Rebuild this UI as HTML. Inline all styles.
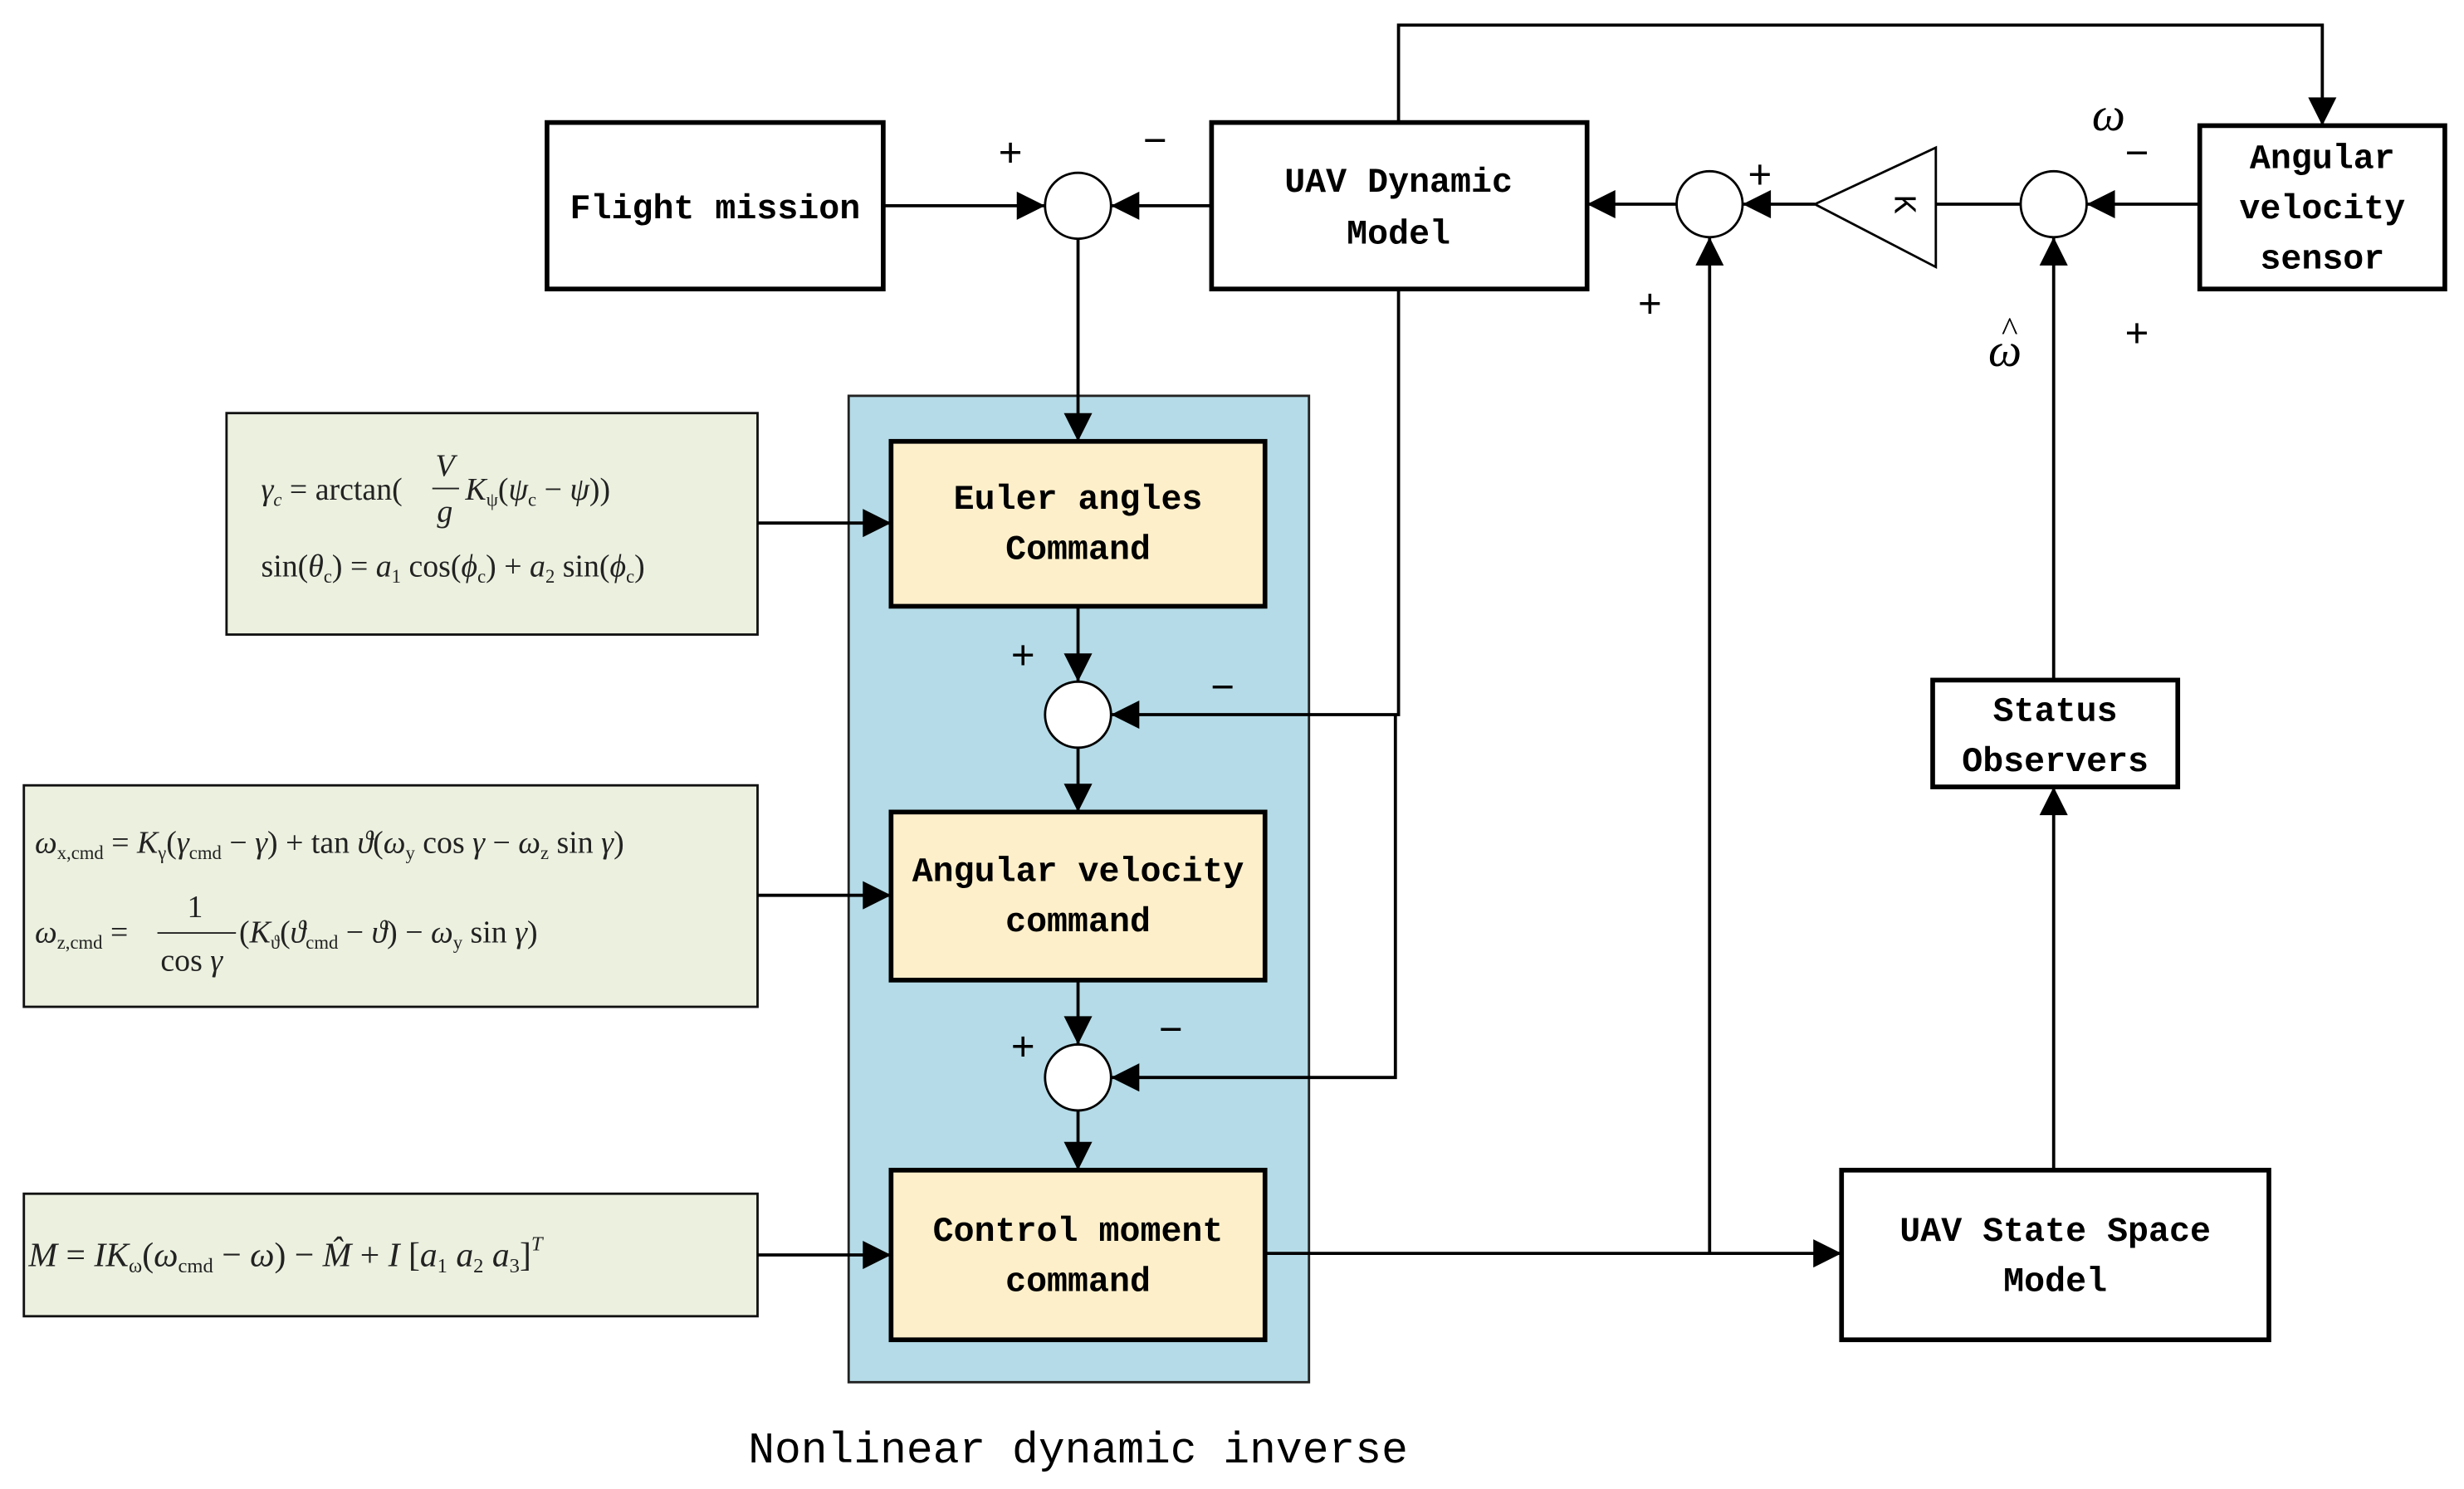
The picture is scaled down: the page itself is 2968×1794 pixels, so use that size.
<!DOCTYPE html>
<html><head><meta charset="utf-8"><style>html,body{margin:0;padding:0;background:#fff}svg{display:block}</style></head>
<body>
<svg width="2968" height="1794" viewBox="0 0 1568 948" xmlns="http://www.w3.org/2000/svg">
<defs>
<marker id="a" viewBox="0 0 10 10" refX="10" refY="5" markerWidth="22" markerHeight="18" markerUnits="userSpaceOnUse" orient="auto"><path d="M0,0 L10,5 L0,10 z" fill="#000"/></marker>
</defs>
<rect width="1568" height="948" fill="#fff"/>
<g font-family="Liberation Mono, monospace" font-weight="bold" font-size="22" text-anchor="middle" fill="#000">
<rect x="540" y="252" width="293" height="628" fill="#b4dbe7" stroke="#222" stroke-width="1.5"/>
<rect x="348" y="78" width="214" height="106" fill="#fff" stroke="#000" stroke-width="3"/>
<text x="455" y="139">Flight mission</text>
<rect x="771" y="78" width="239" height="106" fill="#fff" stroke="#000" stroke-width="3"/>
<text x="890" y="122">UAV Dynamic</text><text x="890" y="155">Model</text>
<rect x="1400" y="80" width="156" height="104" fill="#fff" stroke="#000" stroke-width="3"/>
<text x="1478" y="107">Angular</text><text x="1478" y="139">velocity</text><text x="1478" y="171">sensor</text>
<rect x="567" y="281" width="238" height="105" fill="#fdefca" stroke="#000" stroke-width="3"/>
<text x="686" y="324">Euler angles</text><text x="686" y="356">Command</text>
<rect x="567" y="517" width="238" height="107" fill="#fdefca" stroke="#000" stroke-width="3"/>
<text x="686" y="561">Angular velocity</text><text x="686" y="593">command</text>
<rect x="567" y="745" width="238" height="108" fill="#fdefca" stroke="#000" stroke-width="3"/>
<text x="686" y="790">Control moment</text><text x="686" y="822">command</text>
<rect x="1230" y="433" width="156" height="68" fill="#fff" stroke="#000" stroke-width="3"/>
<text x="1308" y="459">Status</text><text x="1308" y="491">Observers</text>
<rect x="1172" y="745" width="272" height="108" fill="#fff" stroke="#000" stroke-width="3"/>
<text x="1308" y="790">UAV State Space</text><text x="1308" y="822">Model</text>
<text x="686" y="931" font-weight="normal" font-size="28">Nonlinear dynamic inverse</text>
</g>
<g font-family="Liberation Serif, serif" font-size="20" fill="#222">
<rect x="144" y="263" width="338" height="141" fill="#ebf0df" stroke="#111" stroke-width="1.5"/>
<text x="166" y="318"><tspan font-style="italic">γ</tspan><tspan font-size="12" font-style="italic" dy="4">c</tspan><tspan dy="-4"> = arctan(</tspan></text>
<text x="277" y="303" font-style="italic">V</text><line x1="275" y1="311" x2="292" y2="311" stroke="#222"/><text x="278" y="332" font-style="italic">g</text>
<text x="296" y="318"><tspan font-style="italic">K</tspan><tspan font-size="12" dy="4">ψ</tspan><tspan dy="-4">(</tspan><tspan font-style="italic">ψ</tspan><tspan font-size="12" dy="4">c</tspan><tspan dy="-4"> − </tspan><tspan font-style="italic">ψ</tspan>))</text>
<text x="166" y="367">sin(<tspan font-style="italic">θ</tspan><tspan font-size="12" dy="4">c</tspan><tspan dy="-4">) = </tspan><tspan font-style="italic">a</tspan><tspan font-size="12" dy="4">1</tspan><tspan dy="-4"> cos(</tspan><tspan font-style="italic">ϕ</tspan><tspan font-size="12" dy="4">c</tspan><tspan dy="-4">) + </tspan><tspan font-style="italic">a</tspan><tspan font-size="12" dy="4">2</tspan><tspan dy="-4"> sin(</tspan><tspan font-style="italic">ϕ</tspan><tspan font-size="12" dy="4">c</tspan><tspan dy="-4">)</tspan></text>
<rect x="15" y="500" width="467" height="141" fill="#ebf0df" stroke="#111" stroke-width="1.5"/>
<text x="22" y="543"><tspan font-style="italic">ω</tspan><tspan font-size="12" dy="4">x,cmd</tspan><tspan dy="-4"> = </tspan><tspan font-style="italic">K</tspan><tspan font-size="12" dy="4">γ</tspan><tspan dy="-4">(</tspan><tspan font-style="italic">γ</tspan><tspan font-size="12" dy="4">cmd</tspan><tspan dy="-4"> − </tspan><tspan font-style="italic">γ</tspan>) + tan <tspan font-style="italic">ϑ</tspan>(<tspan font-style="italic">ω</tspan><tspan font-size="12" dy="4">y</tspan><tspan dy="-4"> cos </tspan><tspan font-style="italic">γ</tspan> − <tspan font-style="italic">ω</tspan><tspan font-size="12" dy="4">z</tspan><tspan dy="-4"> sin </tspan><tspan font-style="italic">γ</tspan>)</text>
<text x="22" y="600"><tspan font-style="italic">ω</tspan><tspan font-size="12" dy="4">z,cmd</tspan><tspan dy="-4"> = </tspan></text>
<text x="119" y="584">1</text><line x1="100" y1="594" x2="150" y2="594" stroke="#222"/><text x="102" y="618">cos <tspan font-style="italic">γ</tspan></text>
<text x="152" y="600">(<tspan font-style="italic">K</tspan><tspan font-size="12" dy="4">ϑ</tspan><tspan dy="-4">(</tspan><tspan font-style="italic">ϑ</tspan><tspan font-size="12" dy="4">cmd</tspan><tspan dy="-4"> − </tspan><tspan font-style="italic">ϑ</tspan>) − <tspan font-style="italic">ω</tspan><tspan font-size="12" dy="4">y</tspan><tspan dy="-4"> sin </tspan><tspan font-style="italic">γ</tspan>)</text>
<rect x="15" y="760" width="467" height="78" fill="#ebf0df" stroke="#111" stroke-width="1.5"/>
<text x="18" y="806" font-size="22"><tspan font-style="italic">M</tspan> = <tspan font-style="italic">IK</tspan><tspan font-size="13" dy="4">ω</tspan><tspan dy="-4">(</tspan><tspan font-style="italic">ω</tspan><tspan font-size="13" dy="4">cmd</tspan><tspan dy="-4"> − </tspan><tspan font-style="italic">ω</tspan>) − <tspan font-style="italic">M̂</tspan> + <tspan font-style="italic">I</tspan> [<tspan font-style="italic">a</tspan><tspan font-size="13" dy="4">1</tspan><tspan dy="-4">     </tspan><tspan font-style="italic">a</tspan><tspan font-size="13" dy="4">2</tspan><tspan dy="-4">     </tspan><tspan font-style="italic">a</tspan><tspan font-size="13" dy="4">3</tspan><tspan dy="-4">]</tspan><tspan font-size="13" dy="-10" font-style="italic">T</tspan></text>
</g>
<g fill="#fff" stroke="#000" stroke-width="1.5">
<circle cx="686" cy="131" r="21"/><circle cx="1088" cy="130" r="21"/><circle cx="1307" cy="130" r="21"/>
<circle cx="686" cy="455" r="21"/><circle cx="686" cy="686" r="21"/>
</g>
<polygon points="1155,130 1232,94 1232,170" fill="#fff" stroke="#000" stroke-width="1.5"/>
<text x="1212" y="130" font-family="Liberation Mono, monospace" font-size="20" text-anchor="middle" transform="rotate(90 1212 130)" dy="6">K</text>
<g stroke="#000" stroke-width="2" fill="none">
<path d="M562,131 H665" marker-end="url(#a)"/>
<path d="M771,131 H707" marker-end="url(#a)"/>
<path d="M890,78 V16 H1478 V80" marker-end="url(#a)"/>
<path d="M1067,130 H1010" marker-end="url(#a)"/>
<path d="M1155,130 H1109" marker-end="url(#a)"/>
<path d="M1286,130 H1232"/>
<path d="M1400,130 H1328" marker-end="url(#a)"/>
<path d="M686,152 V281" marker-end="url(#a)"/>
<path d="M686,386 V434" marker-end="url(#a)"/>
<path d="M686,476 V517" marker-end="url(#a)"/>
<path d="M686,624 V665" marker-end="url(#a)"/>
<path d="M686,707 V745" marker-end="url(#a)"/>
<path d="M890,184 V455 H707" marker-end="url(#a)"/>
<path d="M888,455 V686 H707" marker-end="url(#a)"/>
<path d="M482,333 H567" marker-end="url(#a)"/>
<path d="M482,570 H567" marker-end="url(#a)"/>
<path d="M482,799 H567" marker-end="url(#a)"/>
<path d="M805,798 H1172" marker-end="url(#a)"/>
<path d="M1088,798 V151" marker-end="url(#a)"/>
<path d="M1307,745 V501" marker-end="url(#a)"/>
<path d="M1307,433 V151" marker-end="url(#a)"/>
</g>
<g font-family="Liberation Sans, sans-serif" font-size="26" fill="#000" text-anchor="middle">
<text x="643" y="106">+</text><text x="735" y="98">−</text>
<text x="1120" y="120">+</text><text x="1050" y="202">+</text>
<text x="1360" y="106">−</text><text x="1360" y="221">+</text>
<text x="651" y="426">+</text><text x="778" y="446">−</text>
<text x="651" y="675">+</text><text x="745" y="664">−</text>
<text x="1342" y="83" font-family="Liberation Serif, serif" font-style="italic" font-size="30">ω</text>
<text x="1276" y="233" font-family="Liberation Serif, serif" font-style="italic" font-size="30">ω</text>
<text x="1279" y="217" font-family="Liberation Serif, serif" font-size="22">^</text>
</g>
</svg>
</body></html>
